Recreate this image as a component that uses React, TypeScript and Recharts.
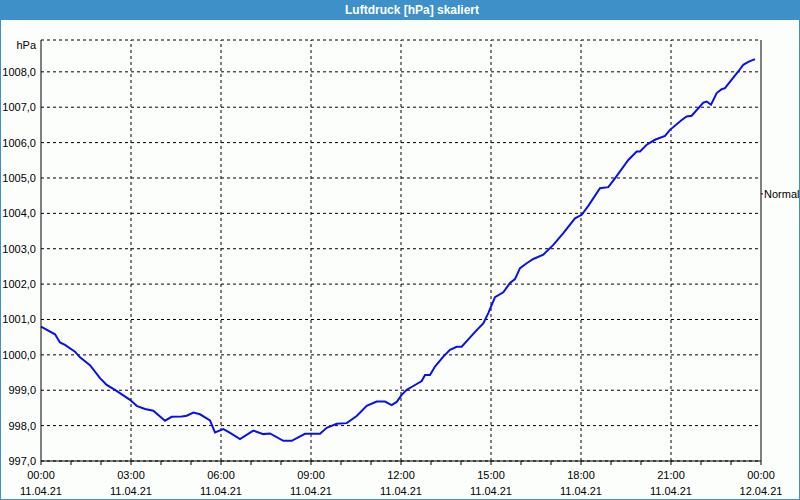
import React from "react";
import { LineChart, Line, XAxis, YAxis, CartesianGrid, ReferenceLine } from "recharts";

// time in hours since 11.04.21 00:00
const hours = [
  0, 0.467, 0.633, 0.8, 1.133, 1.3, 1.633, 1.967, 2.19, 2.467, 2.967, 3.19, 3.467, 3.743,
  4.133, 4.357, 4.69, 4.857, 5.077, 5.3, 5.633, 5.8, 6.077, 6.277, 6.633, 7.077, 7.41,
  7.633, 8.077, 8.357, 8.8, 9.3, 9.523, 9.857, 10.19, 10.523, 10.857, 11.19, 11.467,
  11.69, 11.857, 12.023, 12.19, 12.41, 12.69, 12.8, 12.967, 13.133, 13.41, 13.633,
  13.857, 14.023, 14.243, 14.523, 14.743, 14.91, 15.133, 15.41, 15.633, 15.8, 15.967,
  16.19, 16.41, 16.743, 17.077, 17.41, 17.8, 18.023, 18.243, 18.633, 18.91, 19.133,
  19.577, 19.857, 19.967, 20.19, 20.467, 20.8, 20.967, 21.357, 21.523, 21.69, 22.077,
  22.19, 22.333, 22.523, 22.69, 22.8, 23.023, 23.243, 23.41, 23.577, 23.8,
];

const pressure = [
  1000.8, 1000.58, 1000.35, 1000.28, 1000.09, 999.93, 999.71, 999.34, 999.15, 999.01,
  998.73, 998.56, 998.47, 998.42, 998.14, 998.25, 998.26, 998.28, 998.37, 998.32, 998.15,
  997.81, 997.9, 997.81, 997.62, 997.86, 997.76, 997.78, 997.57, 997.57, 997.77, 997.77,
  997.94, 998.05, 998.07, 998.27, 998.56, 998.68, 998.68, 998.58, 998.67, 998.87, 999.01,
  999.12, 999.26, 999.43, 999.43, 999.67, 999.95, 1000.14, 1000.23, 1000.23, 1000.44,
  1000.7, 1000.89, 1001.18, 1001.63, 1001.77, 1002.03, 1002.14, 1002.45, 1002.59, 1002.71,
  1002.83, 1003.11, 1003.44, 1003.86, 1003.96, 1004.21, 1004.71, 1004.74, 1004.99, 1005.51,
  1005.75, 1005.75, 1005.94, 1006.08, 1006.19, 1006.36, 1006.64, 1006.74, 1006.76, 1007.13,
  1007.16, 1007.07, 1007.4, 1007.51, 1007.54, 1007.78, 1008.01, 1008.2, 1008.28, 1008.36,
];

const majorHours = [0, 3, 6, 9, 12, 15, 18, 21, 24];
const timeLabels = ["00:00", "03:00", "06:00", "09:00", "12:00", "15:00", "18:00", "21:00", "00:00"];
const dateLabels = ["11.04.21", "11.04.21", "11.04.21", "11.04.21", "11.04.21", "11.04.21", "11.04.21", "11.04.21", "12.04.21"];
const hourTicks = Array.from({ length: 25 }, (_, i) => i);
const yTicks = [997, 998, 999, 1000, 1001, 1002, 1003, 1004, 1005, 1006, 1007, 1008];
const yDomain = [997, 1008.9];
const normalValue = 1004.55;
const normalLabel = "Normal";

const data = hours.map((h, i) => ({ h, p: pressure[i] }));

const FONT = "'Liberation Sans', Arial, sans-serif";

const XTick = (props: any) => {
  const { x, y, payload } = props;
  const idx = majorHours.indexOf(payload.value);
  if (idx < 0) return null;
  return (
    <g>
      <text x={x} y={y + 12} textAnchor="middle" fontSize={11} fontFamily={FONT} fill="#000">
        {timeLabels[idx]}
      </text>
      <text x={x} y={y + 28} textAnchor="middle" fontSize={11} fontFamily={FONT} fill="#000">
        {dateLabels[idx]}
      </text>
    </g>
  );
};

const NormalLabel = (props: any) => {
  const vb = props.viewBox || {};
  const xr = (vb.x || 0) + (vb.width || 0);
  const y = vb.y || 0;
  return (
    <g>
      <line x1={xr} x2={xr + 2} y1={y} y2={y} stroke="#000" />
      <text x={xr + 3} y={y + 4} fontSize={11} fontFamily={FONT} fill="#000" textAnchor="start">
        {normalLabel}
      </text>
    </g>
  );
};

export default function App() {
  return (
    <div style={{ position: "absolute", left: 0, top: 0, width: 800, height: 500, background: "#fcfefc", fontFamily: FONT }}>
      <div style={{ position: "absolute", left: 0, top: 0 }}>
        <LineChart width={800} height={500} data={data} margin={{ top: 40, right: 0, bottom: 0, left: 0 }}>
          <CartesianGrid
            xAxisId="b"
            yAxisId="l"
            vertical={false}
            stroke="#000"
            strokeDasharray="3 3"
          />
          {majorHours.slice(1, -1).map((h) => (
            <ReferenceLine key={h} x={h} xAxisId="b" yAxisId="l" stroke="#000" strokeDasharray="3 3" />
          ))}
          <ReferenceLine
            y={normalValue}
            xAxisId="b"
            yAxisId="l"
            stroke="none"
            label={<NormalLabel />}
          />
          <XAxis
            xAxisId="b"
            dataKey="h"
            type="number"
            domain={[0, 24]}
            ticks={hourTicks}
            interval={0}
            height={39}
            axisLine={{ stroke: "#000" }}
            tickLine={{ stroke: "#000" }}
            tickSize={4}
            tick={<XTick />}
          />
          <XAxis
            xAxisId="t"
            orientation="top"
            type="number"
            domain={[0, 24]}
            height={0}
            tick={false}
            tickLine={false}
            axisLine={{ stroke: "#000" }}
          />
          <YAxis
            yAxisId="l"
            type="number"
            domain={yDomain}
            ticks={yTicks}
            interval={0}
            width={41}
            axisLine={{ stroke: "#000" }}
            tickLine={false}
            tickSize={0}
            tickMargin={5}
            tick={{ fontSize: 11, fontFamily: FONT, fill: "#000" }}
            tickFormatter={(v: number) => v.toFixed(1).replace(".", ",")}
          />
          <YAxis
            yAxisId="r"
            orientation="right"
            type="number"
            domain={yDomain}
            width={39}
            axisLine={{ stroke: "#000" }}
            tickLine={false}
            tick={false}
          />
          <Line
            xAxisId="b"
            yAxisId="l"
            type="linear"
            dataKey="p"
            stroke="#0a10e8"
            strokeWidth={2}
            dot={false}
            isAnimationActive={false}
          />
        </LineChart>
      </div>
      <div
        style={{
          position: "absolute",
          left: 0,
          top: 0,
          width: 800,
          height: 20,
          background: "#3d90c8",
          color: "#fff",
          fontWeight: "bold",
          fontSize: 12,
          lineHeight: "20px",
          textAlign: "center",
          paddingLeft: 24,
          boxSizing: "border-box",
        }}
      >
        Luftdruck [hPa] skaliert
      </div>
      <div
        style={{
          position: "absolute",
          right: 764,
          top: 38,
          fontSize: 11,
          lineHeight: "14px",
          color: "#000",
        }}
      >
        hPa
      </div>
      <div
        style={{
          position: "absolute",
          left: 0,
          top: 0,
          width: 800,
          height: 500,
          border: "1px solid #3d90c8",
          boxSizing: "border-box",
          pointerEvents: "none",
        }}
      />
    </div>
  );
}
